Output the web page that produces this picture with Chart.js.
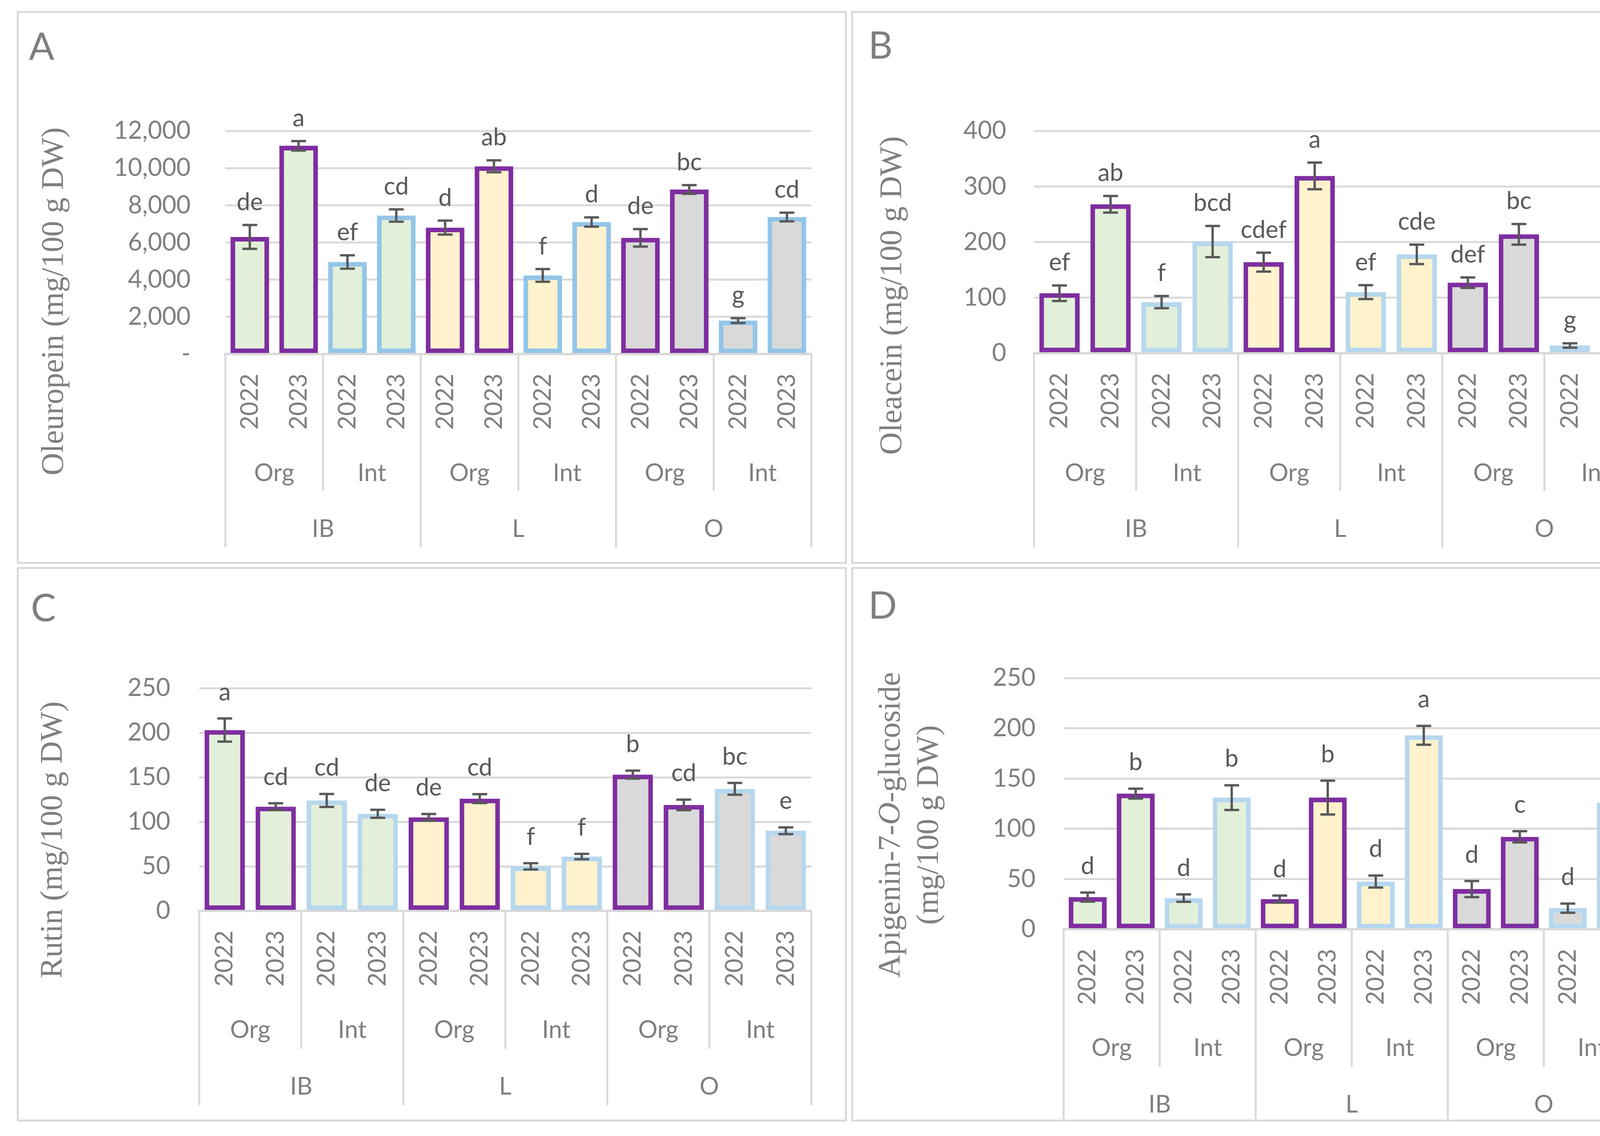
<!DOCTYPE html>
<html><head><meta charset="utf-8">
<script src="https://cdn.jsdelivr.net/npm/chart.js@4.4.1/dist/chart.umd.min.js"></script>
<style>
html,body{margin:0;padding:0;background:#fff;}
body{width:4347px;height:2907px;position:relative;overflow:hidden;}
.frame{position:absolute;border:5px solid #d9d9d9;box-sizing:border-box;}
canvas{position:absolute;}
</style></head><body>
<script>
// ---- categories ----
const years = ['2022', '2023'];
const systems = ['Org', 'Int'];
const cultivars = ['IB', 'L', 'O'];

// ---- panel A: Oleuropein ----
const oleuropeinMean = [6300, 11200, 4950, 7450, 6800, 10100, 4230, 7100, 6250, 8850, 1800, 7370];
const oleuropeinErr = [640, 255, 360, 330, 375, 320, 340, 250, 470, 235, 130, 235];
const oleuropeinLetters = ['de', 'a', 'ef', 'cd', 'd', 'ab', 'f', 'd', 'de', 'bc', 'g', 'cd'];
const oleuropeinTicks = [0, 2000, 4000, 6000, 8000, 10000, 12000];

// ---- panel B: Oleacein ----
const oleaceinMean = [108, 268, 92, 201, 164, 319, 110, 178, 127, 214, 14, 191];
const oleaceinErr = [14, 15, 11, 28, 17, 24, 12.5, 17.5, 9.4, 18.6, 4, 17];
const oleaceinLetters = ['ef', 'ab', 'f', 'bcd', 'cdef', 'a', 'ef', 'cde', 'def', 'bc', 'g', 'bcd'];
const oleaceinTicks = [0, 50, 100, 150, 200, 250, 300, 350, 400];

// ---- panel C: Rutin ----
const rutinMean = [203, 117, 124, 109, 105, 126, 50, 61, 153, 119, 137, 90];
const rutinErr = [13, 3.8, 7.3, 4.5, 3.8, 5, 3.5, 3, 4.5, 5.9, 6.6, 3.8];
const rutinLetters = ['a', 'cd', 'cd', 'de', 'de', 'cd', 'f', 'f', 'b', 'cd', 'bc', 'e'];
const rutinTicks = [0, 50, 100, 150, 200, 250];

// ---- panel D: Apigenin-7-O-glucoside ----
const apigeninMean = [32, 135, 31, 131, 30, 131, 47.5, 193, 40, 92, 21, 126];
const apigeninErr = [4.5, 4.9, 3.7, 12.3, 3.5, 16.8, 6, 9.4, 8, 5.6, 4.6, 5];
const apigeninLetters = ['d', 'b', 'd', 'b', 'd', 'b', 'd', 'a', 'd', 'c', 'd', 'bc'];
const apigeninTicks = [0, 50, 100, 150, 200, 250];

// ---- build hierarchical category labels ----
const yearLabels = [], systemLabels = [], cultivarLabels = [];
cultivars.forEach(c => { cultivarLabels.push(c); systems.forEach(s => { systemLabels.push(s); years.forEach(y => yearLabels.push(y)); }); });

const PURPLE = '#7F2EA0';
const FILLS = ['#E2F0D9', '#FFF2CC', '#D9D9D9'];
const GRID = '#d9d9d9';
const TXT = '#7f7f7f';
const LBL = '#595959';
const SANS = 'Lato, "Open Sans", sans-serif';
const SERIF = '"Liberation Serif", "DejaVu Serif", serif';

const panels = [
  { letter: 'A', frame: [43, 28, 2168, 1443], plot: [577, 335, 2077, 906], tickRight: 488,
    mean: oleuropeinMean, err: oleuropeinErr, letters: oleuropeinLetters, ticks: oleuropeinTicks,
    blue: '#93C5E8', dash: true,
    title: [[['Oleuropein (mg/100 g DW)', false]]], titleX: [140], titleY: 771,
    letterPos: [74, 153], gap: 38,
    rows: { sub: 1231, grp: 1374, subEnd: 1256, grpEnd: 1401 } },
  { letter: 'B', frame: [2179, 28, 4306, 1443], plot: [2647, 335, 4215, 904], tickRight: 2576,
    mean: oleaceinMean, err: oleaceinErr, letters: oleaceinLetters, ticks: oleaceinTicks,
    blue: '#B6D7EE', dash: false,
    title: [[['Oleacein (mg/100 g DW)', false]]], titleX: [2286], titleY: 756,
    letterPos: [2223, 150], gap: 38,
    rows: { sub: 1231, grp: 1374, subEnd: 1256, grpEnd: 1401 } },
  { letter: 'C', frame: [43, 1451, 2168, 2870], plot: [510, 1761, 2077, 2331], tickRight: 436,
    mean: rutinMean, err: rutinErr, letters: rutinLetters, ticks: rutinTicks,
    blue: '#B6D7EE', dash: false,
    title: [[['Rutin (mg/100 g DW)', false]]], titleX: [137], titleY: 2149,
    letterPos: [79, 1590], gap: 47,
    rows: { sub: 2656, grp: 2801, subEnd: 2684, grpEnd: 2828 } },
  { letter: 'D', frame: [2179, 1451, 4306, 2870], plot: [2723, 1735, 4198, 2378], tickRight: 2651,
    mean: apigeninMean, err: apigeninErr, letters: apigeninLetters, ticks: apigeninTicks,
    blue: '#B6D7EE', dash: false,
    title: [[['Apigenin-7-', false], ['O', true], ['-glucoside', false]], [['(mg/100 g DW)', false]]],
    titleX: [2282, 2380], titleY: 2111,
    letterPos: [2223, 1583], gap: 47,
    rows: { sub: 2702, grp: 2847, subEnd: 2730, grpEnd: 2864 } }
];

function panelPlugin(p) {
  const fl = p.frame[0], ft = p.frame[1];
  return {
    id: 'panel' + p.letter,
    afterDatasetsDraw(chart) {
      const ctx = chart.ctx, ys = chart.scales.y;
      const meta = chart.getDatasetMeta(0);
      ctx.save();
      ctx.strokeStyle = LBL; ctx.lineWidth = 6; ctx.lineCap = 'butt';
      meta.data.forEach((el, i) => {
        const x = el.x;
        const yT = ys.getPixelForValue(p.mean[i] + p.err[i]);
        const yB = ys.getPixelForValue(p.mean[i] - p.err[i]);
        ctx.beginPath();
        ctx.moveTo(x, yT); ctx.lineTo(x, yB);
        ctx.moveTo(x - 19, yT); ctx.lineTo(x + 19, yT);
        ctx.moveTo(x - 19, yB); ctx.lineTo(x + 19, yB);
        ctx.stroke();
        ctx.fillStyle = LBL; ctx.font = '62px ' + SANS;
        ctx.textAlign = 'center'; ctx.textBaseline = 'alphabetic';
        ctx.fillText(p.letters[i], x, yT - p.gap);
      });
      ctx.restore();
    },
    afterDraw(chart) {
      const ctx = chart.ctx, xs = chart.scales.x, area = chart.chartArea;
      const n = yearLabels.length;
      const step = xs.getPixelForValue(1) - xs.getPixelForValue(0);
      const bound = i => xs.getPixelForValue(0) - step / 2 + i * step;
      const r = p.rows;
      ctx.save();
      ctx.strokeStyle = GRID; ctx.lineWidth = 5;
      for (let i = 0; i <= n; i += 2) {
        const x = bound(i);
        const end = (i % 4 === 0) ? r.grpEnd : r.subEnd;
        ctx.beginPath(); ctx.moveTo(x, area.bottom); ctx.lineTo(x, end - ft); ctx.stroke();
      }
      ctx.fillStyle = TXT; ctx.font = '62px ' + SANS; ctx.textAlign = 'center'; ctx.textBaseline = 'alphabetic';
      systemLabels.forEach((s, k) => ctx.fillText(s, (bound(2 * k) + bound(2 * k + 2)) / 2, r.sub - ft));
      cultivarLabels.forEach((c, k) => ctx.fillText(c, (bound(4 * k) + bound(4 * k + 4)) / 2, r.grp - ft));
      // panel letter
      ctx.textAlign = 'left'; ctx.font = '96px ' + SANS;
      ctx.fillText(p.letter, p.letterPos[0] - fl, p.letterPos[1] - ft);
      // y-axis title (rotated)
      p.title.forEach((line, li) => {
        ctx.save();
        ctx.translate(p.titleX[li] - fl, p.titleY - ft);
        ctx.rotate(-Math.PI / 2);
        ctx.textBaseline = 'middle'; ctx.textAlign = 'left'; ctx.fillStyle = TXT;
        const fonts = line.map(seg => (seg[1] ? 'italic ' : '') + '80px ' + SERIF);
        let total = 0;
        line.forEach((seg, k) => { ctx.font = fonts[k]; total += ctx.measureText(seg[0]).width; });
        let x0 = -total / 2;
        line.forEach((seg, k) => { ctx.font = fonts[k]; ctx.fillText(seg[0], x0, 0); x0 += ctx.measureText(seg[0]).width; });
        ctx.restore();
      });
      ctx.restore();
    }
  };
}

function build() {
  panels.forEach(p => {
    const [fl, ft, fr, fb] = p.frame;
    const W = fr - fl, H = fb - ft;
    const div = document.createElement('div');
    div.className = 'frame';
    Object.assign(div.style, { left: fl + 'px', top: ft + 'px', width: W + 'px', height: H + 'px' });
    document.body.appendChild(div);
    const cv = document.createElement('canvas');
    cv.width = W; cv.height = H;
    Object.assign(cv.style, { left: fl + 'px', top: ft + 'px', width: W + 'px', height: H + 'px' });
    document.body.appendChild(cv);
    const [pl, pt, pr, pa] = p.plot;
    const maxV = p.ticks[p.ticks.length - 1];
    new Chart(cv, {
      type: 'bar',
      data: {
        labels: yearLabels,
        datasets: [{
          data: p.mean,
          backgroundColor: p.mean.map((v, i) => FILLS[Math.floor(i / 4)]),
          borderColor: p.mean.map((v, i) => Math.floor(i / 2) % 2 === 0 ? PURPLE : p.blue),
          borderWidth: 12,
          borderSkipped: false,
          barPercentage: 0.79,
          categoryPercentage: 1
        }]
      },
      options: {
        responsive: false, animation: false, devicePixelRatio: 1,
        layout: { padding: { left: 0, top: pt - ft, right: fr - pr, bottom: 0 } },
        plugins: { legend: { display: false }, tooltip: { enabled: false } },
        scales: {
          x: {
            type: 'category', offset: true, z: 1,
            grid: { display: false, drawTicks: false },
            border: { display: true, color: GRID, width: 6 },
            ticks: { autoSkip: false, minRotation: 90, maxRotation: 90, padding: 50,
              color: TXT, font: { family: SANS, size: 62 } },
            afterFit: s => { s.height = fb - pa; }
          },
          y: {
            min: 0, max: maxV,
            afterBuildTicks: s => { s.ticks = p.ticks.map(v => ({ value: v })); },
            grid: { color: GRID, lineWidth: 5, drawTicks: false },
            border: { display: false },
            ticks: { padding: pl - p.tickRight, color: TXT, font: { family: SANS, size: 63 },
              callback: v => p.dash ? (v === 0 ? '-' : v.toLocaleString('en-US')) : String(v) },
            afterFit: s => { s.width = pl - fl; }
          }
        }
      },
      plugins: [panelPlugin(p)]
    });
  });
}

const fontLoads = [
  document.fonts.load('62px Lato'),
  document.fonts.load('80px "Liberation Serif"'),
  document.fonts.load('italic 80px "Liberation Serif"')
];
Promise.all(fontLoads).then(build, build);
</script>
</body></html>
